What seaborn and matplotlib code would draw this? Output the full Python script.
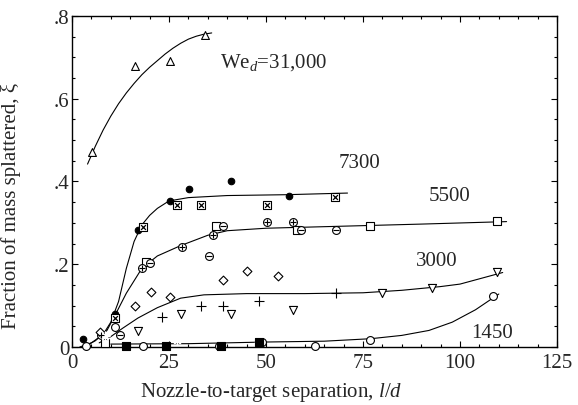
import matplotlib
matplotlib.use("Agg")
import matplotlib.pyplot as plt
import seaborn as sns
import pandas as pd

# Крива для кожного We_d (точки знято з рисунку)
curve_31000_x = [4, 6, 8, 10, 12, 14, 16, 18, 20, 22, 24, 26, 28, 30, 32, 34, 36]
curve_31000_y = [0.442, 0.485, 0.524, 0.558, 0.588, 0.614, 0.637, 0.658, 0.676,
                 0.692, 0.708, 0.722, 0.734, 0.744, 0.751, 0.756, 0.759]
curve_7300_x = [2, 5, 8, 10, 12, 14, 16, 18, 20, 22, 25, 30, 40, 55, 71]
curve_7300_y = [0.0, 0.01, 0.03, 0.06, 0.11, 0.19, 0.255, 0.295, 0.318, 0.335, 0.353,
                0.361, 0.366, 0.368, 0.372]
curve_5500_x = [3, 6, 9, 11, 14, 18, 22, 28, 35, 40, 50, 70, 90, 112]
curve_5500_y = [0.0, 0.015, 0.04, 0.075, 0.13, 0.19, 0.22, 0.245, 0.27, 0.281, 0.287, 0.292, 0.297, 0.303]
curve_3000_x = [7, 10, 13, 17, 22, 28, 34, 45, 60, 75, 85, 95, 100, 111]
curve_3000_y = [0.01, 0.025, 0.045, 0.07, 0.095, 0.118, 0.126, 0.129, 0.129, 0.131, 0.137, 0.146, 0.152, 0.18]
curve_1450_x = [10, 30, 50, 65, 77, 85, 92, 98, 104, 110]
curve_1450_y = [0.007, 0.008, 0.012, 0.014, 0.02, 0.028, 0.04, 0.06, 0.09, 0.128]

# Виміряні точки
tri_up_x = [5.2, 16.2, 25.3, 34.3]
tri_up_y = [0.471, 0.679, 0.691, 0.754]
dot_x = [2.8, 11, 17, 25.3, 30.2, 41, 56]
dot_y = [0.02, 0.08, 0.283, 0.353, 0.382, 0.40, 0.364]
boxx_x = [11, 18.3, 27, 33.3, 50.2, 67.8]
boxx_y = [0.07, 0.29, 0.343, 0.343, 0.343, 0.362]
square_x = [8.5, 19, 37, 58, 76.8, 109.5]
square_y = [0.01, 0.205, 0.292, 0.283, 0.292, 0.305]
oplus_x = [7.5, 18, 28.3, 36.3, 50.2, 57]
oplus_y = [0.03, 0.19, 0.241, 0.27, 0.302, 0.302]
ominus_x = [12.4, 20, 35.3, 39, 59, 68]
ominus_y = [0.03, 0.203, 0.22, 0.292, 0.283, 0.283]
diamond_x = [7.2, 16.2, 20.4, 25.3, 39, 45, 53]
diamond_y = [0.036, 0.10, 0.133, 0.12, 0.162, 0.183, 0.172]
plus_x = [23.2, 33.2, 39, 48.2, 68]
plus_y = [0.072, 0.10, 0.10, 0.112, 0.13]
tri_down_x = [17, 28, 41, 57, 79.8, 92.8, 109.5]
tri_down_y = [0.039, 0.08, 0.08, 0.089, 0.13, 0.143, 0.181]
circle_x = [3.5, 11, 18.3, 38, 49, 62.6, 76.8, 108.5]
circle_y = [0.002, 0.048, 0.003, 0.003, 0.012, 0.003, 0.017, 0.123]
star_x = [8.5, 19.9, 27, 33.2, 48]
star_y = [0.027, 0.029, 0.017, 0.029, 0.02]
dark_sq_x = [14, 24.2, 38.5, 48.2]
dark_sq_y = [0.002, 0.002, 0.002, 0.012]

labels = ["We$_{d}$=31,000", "7300", "5500", "3000", "1450"]
label_x = [38.1, 68.8, 92, 88.7, 103]
label_y = [0.69, 0.447, 0.365, 0.21, 0.036]

x_ticks = [0, 25, 50, 75, 100, 125]
x_minor = list(range(0, 126, 5))
y_ticks = [0, 0.2, 0.4, 0.6, 0.8]
y_tick_labels = ["0", ".2", ".4", ".6", ".8"]
y_minor = [i * 0.05 for i in range(17)]

sns.set_style("ticks")
plt.rcParams["font.family"] = ["Liberation Serif", "DejaVu Serif"]
plt.rcParams["mathtext.fontset"] = "custom"
plt.rcParams["mathtext.rm"] = "Liberation Serif"
plt.rcParams["mathtext.it"] = "Liberation Serif:italic"

fig = plt.figure(figsize=(5.78, 4.06), dpi=100)
ax = fig.add_axes([0.1246, 0.1429, 0.8391, 0.8153])

curves = [(curve_31000_x, curve_31000_y), (curve_7300_x, curve_7300_y),
          (curve_5500_x, curve_5500_y), (curve_3000_x, curve_3000_y),
          (curve_1450_x, curve_1450_y)]
for cx, cy in curves:
    sns.lineplot(x=cx, y=cy, ax=ax, color="black", linewidth=0.8, sort=False,
                 estimator=None)


def pts(x, y, marker, s=30, filled=False, lw=0.8):
    df = pd.DataFrame({"x": x, "y": y})
    if filled:
        sns.scatterplot(data=df, x="x", y="y", ax=ax, marker=marker, s=s,
                        color="black", edgecolor="black", linewidth=lw,
                        clip_on=False, zorder=3)
    elif marker in ["+", "x", "_"]:
        sns.scatterplot(data=df, x="x", y="y", ax=ax, marker=marker, s=s,
                        color="black", linewidth=lw, clip_on=False, zorder=4)
    else:
        sns.scatterplot(data=df, x="x", y="y", ax=ax, marker=marker, s=s,
                        facecolor="white", edgecolor="black", linewidth=lw,
                        clip_on=False, zorder=3)


pts(tri_up_x, tri_up_y, "^", s=32)
pts(dot_x, dot_y, "o", s=22, filled=True)
pts(boxx_x, boxx_y, "s", s=30)
pts(boxx_x, boxx_y, "x", s=12, lw=0.9)
pts(square_x, square_y, "s", s=38)
pts(oplus_x, oplus_y, "o", s=32)
pts(oplus_x, oplus_y, "+", s=22, lw=0.8)
pts(ominus_x, ominus_y, "o", s=32)
pts(ominus_x, ominus_y, "_", s=22, lw=0.8)
pts(diamond_x, diamond_y, "D", s=20)
pts(plus_x, plus_y, "+", s=45, lw=0.8)
pts(tri_down_x, tri_down_y, "v", s=34)
pts(circle_x, circle_y, "o", s=32)
pts(star_x, star_y, (8, 2, 0), s=38, lw=1.0)
pts(dark_sq_x, dark_sq_y, "s", s=30, filled=True)

for t, tx, ty in zip(labels, label_x, label_y):
    ax.text(tx, ty, t, fontsize=15, va="center", ha="left")

ax.set_xlim(0, 125)
ax.set_ylim(0, 0.8)
ax.set_xticks(x_ticks)
ax.set_xticklabels([str(v) for v in x_ticks])
ax.set_xticks(x_minor, minor=True)
ax.set_yticks(y_ticks)
ax.set_yticklabels(y_tick_labels)
ax.set_yticks(y_minor, minor=True)
ax.tick_params(which="both", direction="in", top=True, right=True,
               labelsize=15, color="black", width=0.8)
ax.tick_params(which="major", length=4, pad=2)
ax.tick_params(which="minor", length=2)
ax.tick_params(axis="x", which="major", pad=4)
for sp in ax.spines.values():
    sp.set_linewidth(1.0)
    sp.set_color("black")

ax.set_xlabel("Nozzle-to-target separation, $l/d$", fontsize=15, labelpad=0)
ax.xaxis.set_label_coords(0.41, -0.1)
ax.set_ylabel("Fraction of mass splattered, ξ", fontsize=15)
ax.yaxis.set_label_coords(-0.105, 0.43)

fig.savefig("out.png", dpi=100)
